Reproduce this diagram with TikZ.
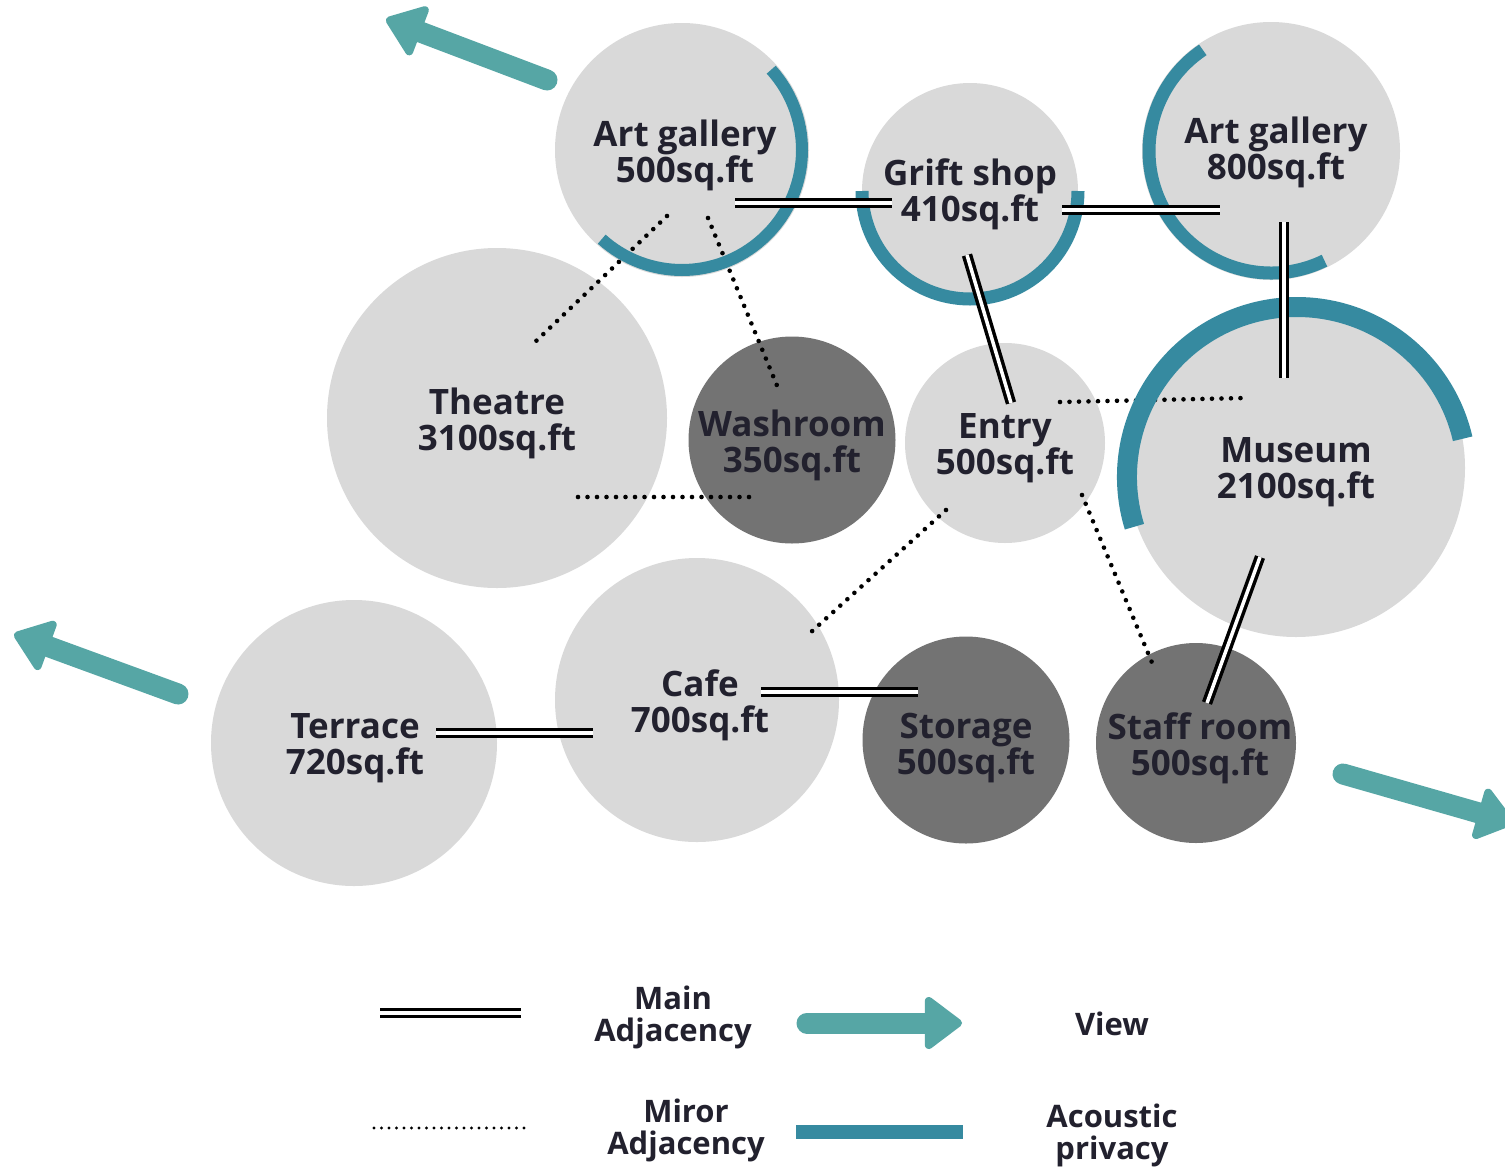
\documentclass[tikz,border=0pt]{standalone}
\usepackage{fontspec}
\setmainfont{Open Sans}
\usetikzlibrary{arrows.meta}
\definecolor{lightc}{HTML}{D9D9D9}
\definecolor{darkc}{HTML}{737373}
\definecolor{acoustic}{HTML}{368AA0}
\definecolor{viewc}{HTML}{56A6A5}
\definecolor{txt}{HTML}{22212E}
\begin{document}
\begin{tikzpicture}[x=1pt,y=-1pt,
  lroom/.style={circle,inner sep=0pt,fill=lightc,minimum size=#1},
  droom/.style={circle,inner sep=0pt,fill=darkc,minimum size=#1},
  rtext/.style={align=center,text=txt,inner sep=0pt,font=\bfseries\fontsize{35}{36}\selectfont},
  ltext/.style={align=center,text=txt,inner sep=0pt,font=\bfseries\fontsize{31}{32}\selectfont},
  mainadj/.style={draw=black,double=white,double distance=3.5pt,line width=3.5pt},
  minoradj/.style={draw=black,line width=4.6pt,line cap=round,dash pattern=on 0pt off 9.5pt},
  acou/.style={draw=acoustic,line width=#1},
  viewarrow/.style={draw=viewc,line width=21pt,line cap=round,
     -{Triangle[length=40pt,width=58pt,round,line width=8pt,fill=viewc,color=viewc]}}
]
\useasboundingbox (0,0) rectangle (1505,1171);
\fill[white] (0,0) rectangle (1505,1171);

% rooms
\node[lroom=254pt] (ag5) at (682,150) {};
\node[lroom=216pt] (gs) at (970,191) {};
\node[lroom=258pt] (ag8) at (1271,151) {};
\node[lroom=340pt] (th) at (497,418) {};
\node[droom=207pt] (wr) at (792,440) {};
\node[lroom=200pt] (en) at (1005,443) {};
\node[lroom=338pt] (mu) at (1296,468) {};
\node[lroom=286pt] (te) at (354,743) {};
\node[lroom=284pt] (ca) at (697,700) {};
\node[droom=207pt] (st) at (966,740) {};
\node[droom=200pt] (sr) at (1196,743) {};

% labels
\node[rtext] (t-ag5) at (685,155) {Art gallery\\500sq.ft};
\node[rtext] (t-gs) at (970,194) {Grift shop\\410sq.ft};
\node[rtext] (t-ag8) at (1276,152) {Art gallery\\800sq.ft};
\node[rtext] (t-th) at (497,423) {Theatre\\3100sq.ft};
\node[rtext] (t-wr) at (792,445) {Washroom\\350sq.ft};
\node[rtext] (t-en) at (1005,448) {Entry\\500sq.ft};
\node[rtext] (t-mu) at (1296,472) {Museum\\2100sq.ft};
\node[rtext] (t-te) at (355,748) {Terrace\\720sq.ft};
\node[rtext] (t-ca) at (700,705) {Cafe\\700sq.ft};
\node[rtext] (t-st) at (966,748) {Storage\\500sq.ft};
\node[rtext] (t-sr) at (1200,748) {Staff room\\500sq.ft};

% connector end points
\coordinate (d1a) at (667,216); \coordinate (d1b) at (534,343);
\coordinate (d2a) at (708,218); \coordinate (d2b) at (778,388);
\coordinate (d3a) at (578,497); \coordinate (d3b) at (750,497);
\coordinate (d4a) at (1060,402); \coordinate (d4b) at (1245,398);
\coordinate (d5a) at (946,510); \coordinate (d5b) at (810,633);
\coordinate (d6a) at (1082,495); \coordinate (d6b) at (1153,665);

\coordinate (m1a) at (735,203); \coordinate (m1b) at (892,203);
\coordinate (m2a) at (1062,210); \coordinate (m2b) at (1220,210);
\coordinate (m3a) at (1284,222); \coordinate (m3b) at (1284,378);
\coordinate (m4a) at (967,255); \coordinate (m4b) at (1011,403);
\coordinate (m5a) at (1260,557); \coordinate (m5b) at (1207,703);
\coordinate (m6a) at (436,733); \coordinate (m6b) at (593,733);
\coordinate (m7a) at (761,692); \coordinate (m7b) at (918,692);

% minor adjacency
\draw[minoradj] (d1a) -- (d1b);
\draw[minoradj] (d2a) -- (d2b);
\draw[minoradj] (d3a) -- (d3b);
\draw[minoradj] (d4a) -- (d4b);
\draw[minoradj] (d5a) -- (d5b);
\draw[minoradj] (d6a) -- (d6b);

% acoustic privacy arcs
\draw[acou=12pt] (ag5.center) ++(-42:120) arc[start angle=-42,end angle=132,radius=120];
\draw[acou=13pt] (gs.center) ++(0:108) arc[start angle=0,end angle=180,radius=108];
\draw[acou=13pt] (ag8.center) ++(64:122) arc[start angle=64,end angle=236,radius=122];
\coordinate (muarc) at (1297,477);
\draw[acou=20pt] (muarc) ++(163:170) arc[start angle=163,end angle=347,radius=170];

% main adjacency
\draw[mainadj] (m1a) -- (m1b);
\draw[mainadj] (m2a) -- (m2b);
\draw[mainadj] (m3a) -- (m3b);
\draw[mainadj] (m4a) -- (m4b);
\draw[mainadj] (m5a) -- (m5b);
\draw[mainadj] (m6a) -- (m6b);
\draw[mainadj] (m7a) -- (m7b);

% views
\coordinate (v1a) at (547,80); \coordinate (v1b) at (386,19);
\coordinate (v2a) at (178,694); \coordinate (v2b) at (14,634);
\coordinate (v3a) at (1343,774); \coordinate (v3b) at (1514,823);
\draw[viewarrow] (v1a) -- (v1b);
\draw[viewarrow] (v2a) -- (v2b);
\draw[viewarrow] (v3a) -- (v3b);

% legend
\coordinate (l1a) at (380,1013); \coordinate (l1b) at (521,1013);
\coordinate (l2a) at (374,1128); \coordinate (l2b) at (528,1128);
\coordinate (l3a) at (807,1023); \coordinate (l3b) at (962,1023);
\coordinate (l4a) at (796,1132); \coordinate (l4b) at (963,1132);
\draw[mainadj] (l1a) -- (l1b);
\draw[minoradj,line width=3.4pt,dash pattern=on 0pt off 7.5pt] (l2a) -- (l2b);
\draw[viewarrow] (l3a) -- (l3b);
\draw[acou=14pt] (l4a) -- (l4b);
\node[ltext] (lt1) at (673,1017) {Main\\Adjacency};
\node[ltext] (lt2) at (686,1130) {Miror\\Adjacency};
\node[ltext] (lt3) at (1112,1024) {View};
\node[ltext] (lt4) at (1112,1135) {Acoustic\\privacy};
\end{tikzpicture}
\end{document}
